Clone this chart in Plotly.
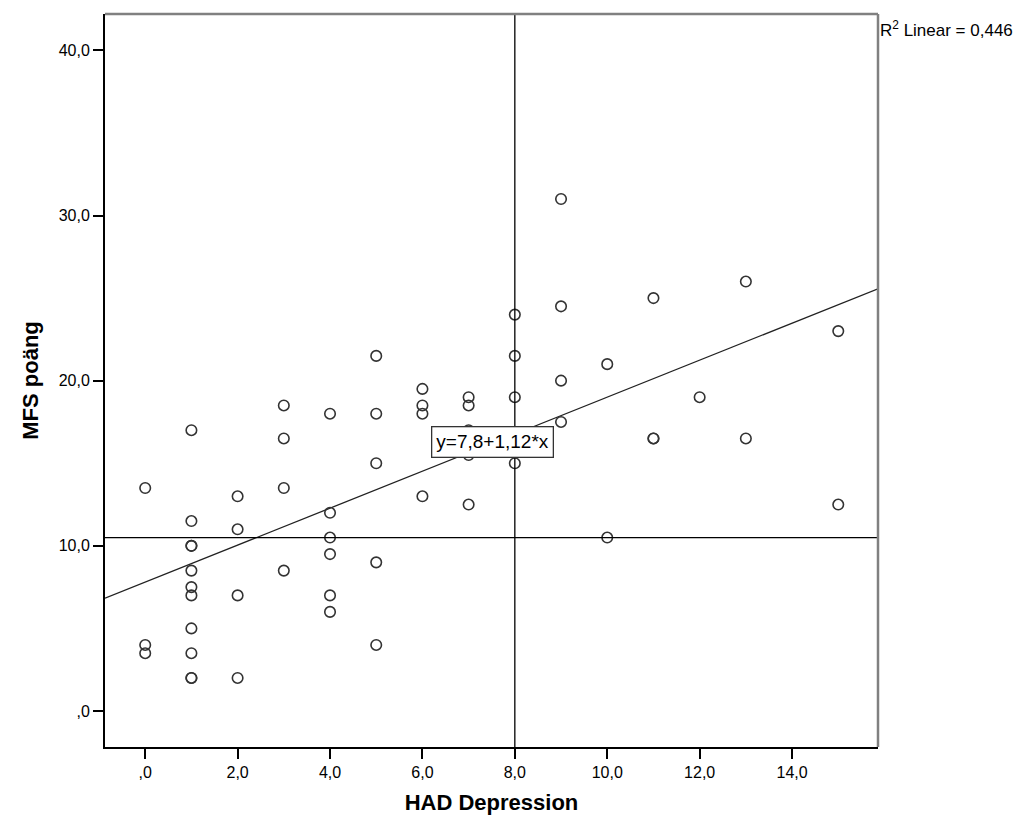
import plotly.graph_objects as go

# Data
had_depression = [0, 0, 0,
                  1, 1, 1, 1, 1, 1, 1, 1, 1, 1, 1,
                  2, 2, 2, 2,
                  3, 3, 3, 3,
                  4, 4, 4, 4, 4, 4,
                  5, 5, 5, 5, 5,
                  6, 6, 6, 6,
                  7, 7, 7, 7, 7,
                  8, 8, 8, 8,
                  9, 9, 9, 9,
                  10, 10,
                  11, 11, 11,
                  12,
                  13, 13,
                  15, 15]
mfs_poang = [13.5, 4.0, 3.5,
             17.0, 11.5, 10.0, 10.0, 8.5, 7.5, 7.0, 5.0, 3.5, 2.0, 2.0,
             13.0, 11.0, 7.0, 2.0,
             18.5, 16.5, 13.5, 8.5,
             18.0, 12.0, 10.5, 9.5, 7.0, 6.0,
             21.5, 18.0, 15.0, 9.0, 4.0,
             19.5, 18.5, 18.0, 13.0,
             19.0, 18.5, 17.0, 15.5, 12.5,
             24.0, 21.5, 19.0, 15.0,
             31.0, 24.5, 20.0, 17.5,
             21.0, 10.5,
             25.0, 16.5, 16.5,
             19.0,
             26.0, 16.5,
             23.0, 12.5]

intercept = 7.8
slope = 1.12
r2_linear = "0,446"
ref_x = 8.0
ref_y = 10.5

x_tickvals = [0, 2, 4, 6, 8, 10, 12, 14]
x_ticktext = [",0", "2,0", "4,0", "6,0", "8,0", "10,0", "12,0", "14,0"]
y_tickvals = [0, 10, 20, 30, 40]
y_ticktext = [",0", "10,0", "20,0", "30,0", "40,0"]

x_range = [-0.87, 15.86]
y_range = [-2.18, 42.2]

FONT = "Liberation Sans, Arial, sans-serif"

fig = go.Figure()

# Regression line
fig.add_trace(go.Scatter(x=x_range, y=[intercept + slope * v for v in x_range], mode="lines",
                         line=dict(color="#222222", width=1.3), hoverinfo="skip", showlegend=False))

# Points
fig.add_trace(go.Scatter(x=had_depression, y=mfs_poang, mode="markers",
                         marker=dict(symbol="circle-open", size=10.5,
                                     color="#333333", line=dict(width=1.6, color="#333333")),
                         showlegend=False))

# Reference lines (drawn above points)
fig.add_trace(go.Scatter(x=x_range, y=[ref_y, ref_y], mode="lines",
                         line=dict(color="black", width=1.3), hoverinfo="skip", showlegend=False))
fig.add_trace(go.Scatter(x=[ref_x, ref_x], y=y_range, mode="lines",
                         line=dict(color="black", width=1.3), hoverinfo="skip", showlegend=False))

# Equation label
fig.add_annotation(x=7.51, y=16.3, xref="x", yref="y",
                   text="y=7,8+1,12*x", showarrow=False,
                   font=dict(family=FONT, size=19, color="black"),
                   bgcolor="white", bordercolor="#333333", borderwidth=1.3, borderpad=4)

# R2 label
fig.add_annotation(x=1.0, y=1.0, xref="paper", yref="paper", xanchor="left", yanchor="top",
                   xshift=0, yshift=-2,
                   text="R<sup>2</sup> Linear = " + r2_linear, showarrow=False,
                   font=dict(family=FONT, size=17, color="black"))

# Top and right frame lines (gray)
fig.add_shape(type="line", xref="paper", yref="paper", x0=0, x1=1, y0=1, y1=1,
              line=dict(color="#808080", width=2.5))
fig.add_shape(type="line", xref="paper", yref="paper", x0=1, x1=1, y0=0, y1=1,
              line=dict(color="#808080", width=2.5))

fig.update_layout(
    width=1022, height=826,
    margin=dict(l=105, r=144, t=14, b=79),
    paper_bgcolor="white", plot_bgcolor="white",
    font=dict(family=FONT, size=16, color="black"),
    xaxis=dict(range=x_range, tickvals=x_tickvals, ticktext=x_ticktext,
               showgrid=False, zeroline=False, showline=True, linecolor="black", linewidth=2,
               ticks="outside", ticklen=10, tickcolor="black", tickwidth=2,
               tickfont=dict(family=FONT, size=16),
               title=dict(text="<b>HAD Depression</b>", font=dict(family=FONT, size=22), standoff=14)),
    yaxis=dict(range=y_range, tickvals=y_tickvals, ticktext=y_ticktext,
               showgrid=False, zeroline=False, showline=True, linecolor="black", linewidth=2,
               ticks="outside", ticklen=10, tickcolor="black", tickwidth=2,
               tickfont=dict(family=FONT, size=16),
               title=dict(text="<b>MFS poäng</b>", font=dict(family=FONT, size=22), standoff=14)),
)

fig.write_html("out.html")
